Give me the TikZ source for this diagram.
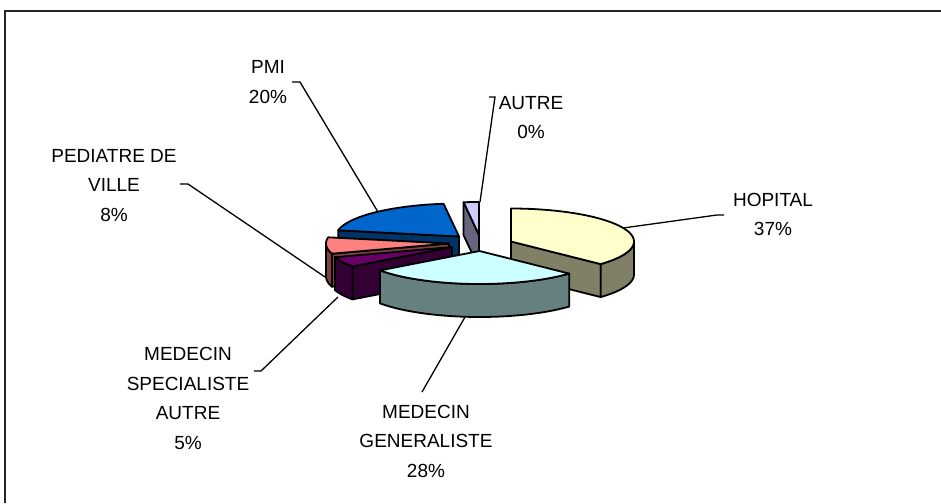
\documentclass[tikz,border=0pt]{standalone}
\usepackage{fontspec}
\setmainfont{Liberation Sans}
\definecolor{hopT}{HTML}{FFFFCC}\definecolor{hopS}{HTML}{808066}
\definecolor{mgT}{HTML}{CCFFFF}\definecolor{mgS}{HTML}{668080}
\definecolor{msaT}{HTML}{660066}\definecolor{msaS}{HTML}{330033}
\definecolor{pedT}{HTML}{FF8080}\definecolor{pedS}{HTML}{804040}
\definecolor{pmiT}{HTML}{0066CC}\definecolor{pmiS}{HTML}{003366}
\definecolor{autT}{HTML}{CCCCFF}\definecolor{autS}{HTML}{666680}
\def\rx{123}\def\ry{33}\def\hh{33}
\newcommand\pieTop[5]{\filldraw[edge,fill=#5] (#1,#2) -- plot[domain=#3:#4,samples=40] ({#1+\rx*cos(\x)},{#2-\ry*sin(\x)}) -- cycle;}
\newcommand\pieOuter[5]{\filldraw[edge,fill=#5] plot[domain=#3:#4,samples=30] ({#1+\rx*cos(\x)},{#2-\ry*sin(\x)}) -- plot[domain=#4:#3,samples=30] ({#1+\rx*cos(\x)},{#2-\ry*sin(\x)+\hh}) -- cycle;}
\newcommand\pieRad[4]{\filldraw[edge,fill=#4] (#1,#2) -- ({#1+\rx*cos(#3)},{#2-\ry*sin(#3)}) -- ({#1+\rx*cos(#3)},{#2-\ry*sin(#3)+\hh}) -- (#1,{#2+\hh}) -- cycle;}
\begin{document}
\begin{tikzpicture}[x=1pt,y=-1pt,
  edge/.style={draw=black,line width=1.8pt,line join=round},
  leader/.style={draw=black,line width=1.3pt},
  frame/.style={draw=black!85,line width=2pt},
  lbl/.style={font=\fontsize{19}{29.5}\selectfont,align=center,inner sep=0pt,anchor=center}]
\useasboundingbox (0,0) rectangle (941,503);
\draw[frame] (5,503) -- (5,11) -- (941,11);
% AUTRE
\pieRad{479}{235}{-262.8}{autS}
\pieTop{479}{235}{-270}{-262.8}{autT}
% PMI
\pieRad{459}{236.5}{-190.8}{pmiS}
\pieTop{459}{236.5}{-262.8}{-190.8}{pmiT}
% HOPITAL
\pieRad{511}{241.5}{-43.2}{hopS}
\pieOuter{511}{241.5}{-43.2}{0}{hopS}
\pieTop{511}{241.5}{-43.2}{90}{hopT}
% PEDIATRE
\pieRad{449}{243.5}{-162}{pedS}
\pieOuter{449}{243.5}{-180}{-162}{pedS}
\pieTop{449}{243.5}{-190.8}{-162}{pedT}
% MEDECIN SPECIALISTE AUTRE
\pieRad{452}{247}{-144}{msaS}
\pieOuter{452}{247}{-162}{-144}{msaS}
\pieTop{452}{247}{-162}{-144}{msaT}
% MEDECIN GENERALISTE
\pieOuter{479.5}{251}{-144}{-43.2}{mgS}
\pieTop{479.5}{251}{-144}{-43.2}{mgT}
% labels
\node[lbl] (lpmi) at (268,82.2) {PMI\\20\%};
\node[lbl] (laut) at (531,117.7) {AUTRE\\0\%};
\node[lbl] (lped) at (114,185.2) {PEDIATRE DE\\VILLE\\8\%};
\node[lbl] (lhop) at (773,214.7) {HOPITAL\\37\%};
\node[lbl] (lmsa) at (188,398.7) {MEDECIN\\SPECIALISTE\\AUTRE\\5\%};
\node[lbl] (lmg) at (426,441.2) {MEDECIN\\GENERALISTE\\28\%};
% leader points
\coordinate (pmiT1) at (292,82); \coordinate (pmiT2) at (300,82); \coordinate (pmiE) at (378,212);
\coordinate (autT1) at (489,97); \coordinate (autT2) at (495,97); \coordinate (autE) at (480,202);
\coordinate (pedT1) at (180,184); \coordinate (pedT2) at (188,184); \coordinate (pedE) at (325,277);
\coordinate (hopE) at (623,228); \coordinate (hopT1) at (717,215); \coordinate (hopT2) at (724,215);
\coordinate (msaT1) at (254,371); \coordinate (msaT2) at (261,371); \coordinate (msaE) at (338,297);
\coordinate (mgT1) at (422,392); \coordinate (mgE) at (465,317);
\draw[leader] (pmiT1) -- (pmiT2) -- (pmiE);
\draw[leader] (autT1) -- (autT2) -- (autE);
\draw[leader] (pedT1) -- (pedT2) -- (pedE);
\draw[leader] (hopE) -- (hopT1) -- (hopT2);
\draw[leader] (msaT1) -- (msaT2) -- (msaE);
\draw[leader] (mgT1) -- (mgE);
\end{tikzpicture}
\end{document}
